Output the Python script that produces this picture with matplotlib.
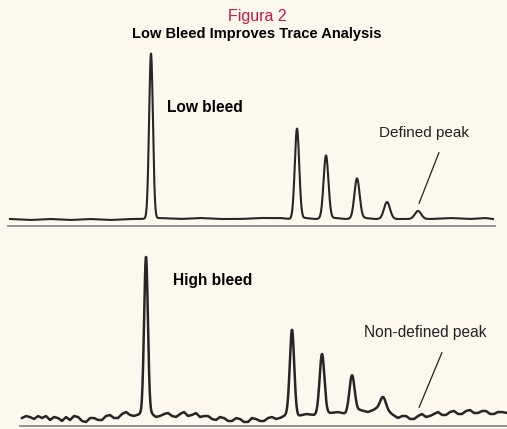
import numpy as np
import matplotlib.pyplot as plt

# ---- data (x in retention units, y = signal above baseline) ----
low_peak_pos = [151, 297, 326, 357, 387, 418]
low_peak_height = [165, 90, 63, 40, 17, 8]
low_peak_width = [1.9, 2.2, 2.4, 2.6, 3.0, 3.2]
low_base_x = [10, 30, 50, 70, 90, 110, 130, 140, 160, 180, 200, 220, 240, 260,
              280, 290, 305, 315, 335, 345, 365, 375, 395, 405, 430, 450, 470, 485, 493]
low_base_y = [1, 0, 1, 0, 1, 0, 1, 1, 2, 1, 2, 1, 1, 2,
              2, 1, 2, 1, 2, 1, 2, 1, 1, 1, 1, 2, 1, 2, 1]

high_peak_pos = [146, 292, 322, 352, 383]
high_peak_height = [157, 85, 60, 37, 14]
high_peak_width = [1.9, 2.2, 2.4, 2.6, 3.0]
high_base_x = [22, 26, 30, 34, 38, 42, 46, 50, 54, 58, 62, 66, 70, 74, 78, 82, 86, 90,
               94, 98, 102, 106, 110, 114, 118, 122, 126, 130, 134, 140,
               152, 156, 160, 164, 168, 172, 176, 180, 184, 188, 192, 196, 200, 204,
               208, 212, 216, 220, 224, 228, 232, 236, 240, 244, 248, 252, 256, 260,
               264, 268, 272, 276, 280, 288, 298, 306, 314, 330, 338, 346, 360, 368,
               376, 390, 398, 402, 406, 410, 414, 418, 422, 426, 430, 434, 438, 442,
               446, 450, 454, 458, 462, 466, 470, 474, 478, 482, 486, 490, 494, 498,
               502, 507]
high_base_y = [-3, -1, -2, -4, -1, -3, -1, -5, -2, -3, -6, -2, -5, -1, -2, -6, -7, -3,
               -3, -5, -5, -1, 0, -3, -3, 1, 3, 0, -1, 1,
               1, -2, -1, 1, 2, -1, -2, 1, 3, -1, 0, 2, -2, -1,
               -1, -4, -5, -2, -3, -6, -6, -3, -4, -7, -7, -3, -4, -6,
               -6, -3, -2, -4, -3, 1, -1, 1, 0, 2, 3, 1, 5, 3,
               6, 2, -3, -1, -1, -4, -4, -1, 1, -2, -1, 1, 3, 0,
               0, 3, 4, 1, 1, 4, 5, 2, 2, 4, 4, 1, 1, 3, 3, 2]

bg = '#fdf8ee'
ink = '#262626'


def trace(px, ph, pw, bx, by):
    x = np.linspace(bx[0], bx[-1], 2500)
    y = np.interp(x, bx, by)
    for p, h, w in zip(px, ph, pw):
        y = y + h * np.exp(-0.5 * ((x - p) / w) ** 2)
    return x, y


fig = plt.figure(figsize=(5.07, 4.29), dpi=100, facecolor=bg)

# top panel: pixels 42..232 tall, baseline at pixel 220
ax1 = fig.add_axes([0, 1 - 232 / 429, 1, 190 / 429])
ax1.set_xlim(0, 507)
ax1.set_ylim(-12, 178)
x, y = trace(low_peak_pos, low_peak_height, low_peak_width, low_base_x, low_base_y)
ax1.plot(x, y, color=ink, lw=1.5)
ax1.plot([8, 495], [-6, -6], color='#8a8a8a', lw=1.3)
ax1.text(167, 113, 'Low bleed', fontsize=11.2, fontweight='bold', va='center', ha='left',
         family='Liberation Sans')
ax1.text(424, 87, 'Defined peak', fontsize=11, va='center', ha='center',
         family='Liberation Sans', color='#222222')
ax1.annotate('', xy=(418, 14), xytext=(440, 70),
             arrowprops=dict(arrowstyle='-', color='#222222', lw=0.9))
ax1.axis('off')

# bottom panel: pixels 239..429, baseline at pixel 415
ax2 = fig.add_axes([0, 0, 1, 190 / 429])
ax2.set_xlim(0, 507)
ax2.set_ylim(-14, 176)
x, y = trace(high_peak_pos, high_peak_height, high_peak_width, high_base_x, high_base_y)
ax2.plot(x, y, color=ink, lw=1.8)
ax2.plot([20, 507], [-11, -11], color='#8a8a8a', lw=1.3)
ax2.text(173, 135, 'High bleed', fontsize=11.2, fontweight='bold', va='center', ha='left',
         family='Liberation Sans')
ax2.text(425, 82, 'Non-defined peak', fontsize=11.2, va='center', ha='center',
         family='Liberation Sans', color='#222222')
ax2.annotate('', xy=(418, 5), xytext=(443, 65),
             arrowprops=dict(arrowstyle='-', color='#222222', lw=0.9))
ax2.axis('off')

fig.text(0.507, 1 - 17 / 429, 'Figura 2', color='#c8174a', fontsize=11.5,
         ha='center', va='center', family='Liberation Sans')
fig.text(0.507, 1 - 34 / 429, 'Low Bleed Improves Trace Analysis', fontsize=10.5,
         fontweight='bold', ha='center', va='center', family='Liberation Sans')

fig.savefig('out.png', dpi=100, facecolor=bg)
